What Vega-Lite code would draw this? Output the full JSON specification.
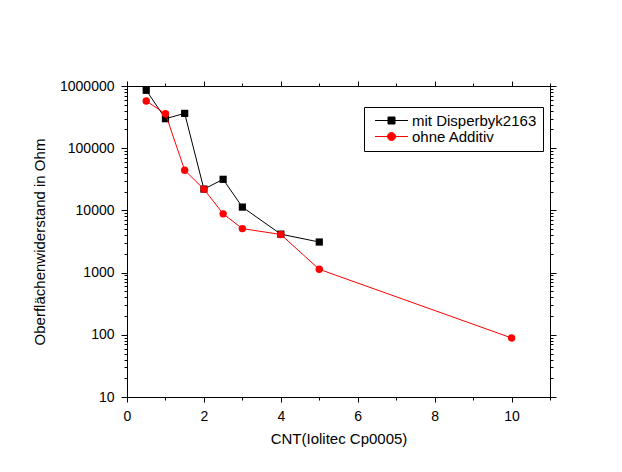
{
  "$schema": "https://vega.github.io/schema/vega-lite/v6.json",
  "width": 423,
  "height": 311,
  "autosize": {"type": "none"},
  "padding": {"left": 127, "top": 86, "right": 72, "bottom": 75},
  "background": "white",
  "config": {
    "view": {"stroke": "black", "strokeWidth": 1},
    "font": "Liberation Sans",
    "axis": {
      "domainColor": "black",
      "tickColor": "black",
      "labelColor": "black",
      "titleColor": "black",
      "labelFont": "Liberation Sans",
      "titleFont": "Liberation Sans",
      "labelFontSize": 14,
      "titleFontSize": 15,
      "titleFontWeight": "normal",
      "grid": false
    },
    "legend": {
      "labelFont": "Liberation Sans",
      "labelFontSize": 15,
      "labelColor": "black"
    }
  },
  "data": {
    "values": [
      {"x": 0.5, "y": 853000, "series": "mit Disperbyk2163"},
      {"x": 1.0, "y": 298000, "series": "mit Disperbyk2163"},
      {"x": 1.5, "y": 363000, "series": "mit Disperbyk2163"},
      {"x": 2.0, "y": 22000, "series": "mit Disperbyk2163"},
      {"x": 2.5, "y": 31600, "series": "mit Disperbyk2163"},
      {"x": 3.0, "y": 11300, "series": "mit Disperbyk2163"},
      {"x": 4.0, "y": 4150, "series": "mit Disperbyk2163"},
      {"x": 5.0, "y": 3100, "series": "mit Disperbyk2163"},
      {"x": 0.5, "y": 574000, "series": "ohne Additiv"},
      {"x": 1.0, "y": 359000, "series": "ohne Additiv"},
      {"x": 1.5, "y": 44200, "series": "ohne Additiv"},
      {"x": 2.0, "y": 22000, "series": "ohne Additiv"},
      {"x": 2.5, "y": 8800, "series": "ohne Additiv"},
      {"x": 3.0, "y": 5100, "series": "ohne Additiv"},
      {"x": 4.0, "y": 4100, "series": "ohne Additiv"},
      {"x": 5.0, "y": 1130, "series": "ohne Additiv"},
      {"x": 10.0, "y": 89, "series": "ohne Additiv"}
    ]
  },
  "resolve": {"axis": {"x": "independent", "y": "independent"}},
  "layer": [
    {
      "transform": [{"filter": "datum.series === 'mit Disperbyk2163'"}],
      "mark": {"type": "line", "color": "#000000", "strokeWidth": 1},
      "encoding": {
        "x": {
          "field": "x", "type": "quantitative",
          "scale": {"domain": [0, 11], "nice": false, "zero": false},
          "axis": {
            "orient": "bottom",
            "title": "CNT(Iolitec Cp0005)",
            "values": [0,1,2,3,4,5,6,7,8,9,10,11],
            "labelExpr": "(datum.value % 2 == 0 && datum.value < 11) ? datum.label : ''",
            "tickSize": {"condition": {"test": "datum.value % 2 == 0", "value": 5}, "value": 3},
            "labelPadding": 7,
            "titlePadding": 8,
            "labelFlush": false
          }
        },
        "y": {
          "field": "y", "type": "quantitative",
          "scale": {"type": "log", "domain": [10, 1000000], "nice": false},
          "axis": {
            "orient": "left",
            "title": "Oberflächenwiderstand in Ohm",
            "format": "d",
            "values": [10,20,30,40,50,60,70,80,90,100,200,300,400,500,600,700,800,900,1000,2000,3000,4000,5000,6000,7000,8000,9000,10000,20000,30000,40000,50000,60000,70000,80000,90000,100000,200000,300000,400000,500000,600000,700000,800000,900000,1000000],
            "labelExpr": "abs(log(datum.value)/LN10 - round(log(datum.value)/LN10)) < 0.001 ? datum.label : ''",
            "tickSize": {"condition": {"test": "abs(log(datum.value)/LN10 - round(log(datum.value)/LN10)) < 0.001", "value": 6}, "value": 3},
            "labelPadding": 7,
            "titlePadding": 12,
            "labelFlush": false
          }
        }
      }
    },
    {
      "transform": [{"filter": "datum.series === 'mit Disperbyk2163'"}],
      "mark": {"type": "point", "shape": "square", "filled": true, "color": "#000000", "size": 52, "opacity": 1},
      "encoding": {
        "x": {
          "field": "x", "type": "quantitative",
          "axis": {
            "orient": "top",
            "title": null,
            "labels": false,
            "values": [0,1,2,3,4,5,6,7,8,9,10,11],
            "tickSize": {"condition": {"test": "datum.value % 2 == 0", "value": 5}, "value": 3}
          }
        },
        "y": {
          "field": "y", "type": "quantitative",
          "axis": {
            "orient": "right",
            "title": null,
            "labels": false,
            "values": [10,20,30,40,50,60,70,80,90,100,200,300,400,500,600,700,800,900,1000,2000,3000,4000,5000,6000,7000,8000,9000,10000,20000,30000,40000,50000,60000,70000,80000,90000,100000,200000,300000,400000,500000,600000,700000,800000,900000,1000000],
            "tickSize": {"condition": {"test": "abs(log(datum.value)/LN10 - round(log(datum.value)/LN10)) < 0.001", "value": 6}, "value": 3}
          }
        }
      }
    },
    {
      "transform": [{"filter": "datum.series === 'ohne Additiv'"}],
      "mark": {"type": "line", "color": "#ff0000", "strokeWidth": 1},
      "encoding": {
        "x": {"field": "x", "type": "quantitative", "axis": null},
        "y": {"field": "y", "type": "quantitative", "axis": null}
      }
    },
    {
      "transform": [{"filter": "datum.series === 'ohne Additiv'"}],
      "mark": {"type": "point", "shape": "circle", "filled": true, "color": "#ff0000", "size": 55, "opacity": 1},
      "encoding": {
        "x": {"field": "x", "type": "quantitative", "axis": null},
        "y": {"field": "y", "type": "quantitative", "axis": null}
      }
    },
    {
      "mark": {"type": "point", "filled": true, "opacity": 0, "size": 100, "strokeWidth": 1},
      "encoding": {
        "x": {"field": "x", "type": "quantitative", "axis": null},
        "y": {"field": "y", "type": "quantitative", "axis": null},
        "fill": {
          "field": "series", "type": "nominal",
          "scale": {"domain": ["mit Disperbyk2163", "ohne Additiv"], "range": ["#000000", "#ff0000"]},
          "legend": {
            "title": null, "orient": "none", "legendX": 237, "legendY": 21,
            "strokeColor": "black", "fillColor": "white", "padding": 6,
            "symbolOpacity": 1, "symbolSize": 100, "symbolStrokeWidth": 1,
            "rowPadding": -2, "labelOffset": 27
          }
        },
        "stroke": {
          "field": "series", "type": "nominal",
          "scale": {"domain": ["mit Disperbyk2163", "ohne Additiv"], "range": ["#000000", "#ff0000"]},
          "legend": {
            "title": null, "orient": "none", "legendX": 237, "legendY": 21,
            "strokeColor": "black", "fillColor": "white", "padding": 6,
            "symbolOpacity": 1, "symbolSize": 100, "symbolStrokeWidth": 1,
            "rowPadding": -2, "labelOffset": 27
          }
        },
        "shape": {
          "field": "series", "type": "nominal",
          "scale": {"domain": ["mit Disperbyk2163", "ohne Additiv"], "range": ["M-0.5,0H6.1M2.1,-0.7H3.5V0.7H2.1Z", "M-0.5,0H6.1M3.6,0A0.8,0.8,0,1,1,2.0,0A0.8,0.8,0,1,1,3.6,0Z"]},
          "legend": {
            "title": null, "orient": "none", "legendX": 237, "legendY": 21,
            "strokeColor": "black", "fillColor": "white", "padding": 6,
            "symbolOpacity": 1, "symbolSize": 100, "symbolStrokeWidth": 1,
            "rowPadding": -2, "labelOffset": 27
          }
        }
      }
    }
  ]
}
